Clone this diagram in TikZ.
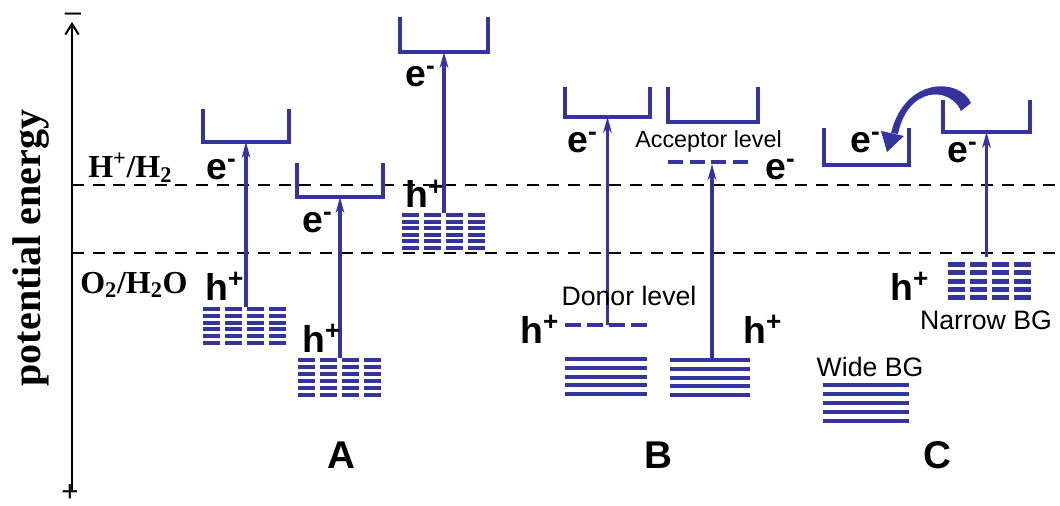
\documentclass[tikz,border=0pt]{standalone}
\usepackage{fontspec}
\setmainfont{Liberation Serif}
\setsansfont{Liberation Sans}
\usetikzlibrary{arrows.meta}
\definecolor{band}{RGB}{52,52,158}
\begin{document}
\begin{tikzpicture}[x=0.75pt,y=-0.75pt,
  cbowl/.style={draw=band, line width=3pt, line join=miter},
  excite/.style={draw=band, line width=2.7pt, -{Stealth[length=12pt,width=6.5pt]}},
  redox/.style={draw=black, line width=1.5pt, dash pattern=on 9pt off 6.5pt},
  carrier/.style={font=\sffamily\bfseries\fontsize{28}{28}\selectfont, inner sep=0pt, anchor=base west},
  couple/.style={font=\bfseries\fontsize{24}{24}\selectfont, inner sep=0pt, anchor=base west},
  levelname/.style={font=\sffamily\fontsize{20}{20}\selectfont, inner sep=0pt},
  panel/.style={font=\sffamily\bfseries\fontsize{29}{29}\selectfont, inner sep=0pt},
  sign/.style={font=\sffamily\fontsize{22}{22}\selectfont, inner sep=0pt}]
\useasboundingbox (0,0) rectangle (1060,506);

% energy axis
\coordinate (axbot) at (72,490);
\coordinate (axtop) at (72,22);
\draw[line width=1.5pt, -{Straight Barb[length=8pt,width=10pt]}] (axbot) -- (axtop);
\node[sign, anchor=base] (minus) at (73,22) {–};
\node[sign] (plus) at (70,493) {+};
\node[rotate=90, font=\bfseries\fontsize{30}{30}\selectfont, inner sep=0pt] (ylab) at (31,248) {potential energy};

% redox potentials
\coordinate (hl) at (72,185);  \coordinate (hr) at (1060,185);
\coordinate (ol) at (72,253);  \coordinate (or) at (1060,253);
\draw[redox] (hl) -- (hr);
\draw[redox] (ol) -- (or);
\node[couple] (hh) at (88,178) {H\textsuperscript{+}/H\textsubscript{2}};
\node[couple] (oo) at (80,293) {O\textsubscript{2}/H\textsubscript{2}O};

% conduction band bowls: name, left, right, top, bottom
\foreach \n/\xl/\xr/\yt/\yb in {cb1/203/289/109/142, cb2/297/383/163/197, cb3/400/488/17/52,
    cb4/565/650/87/117, cb5/668/758/87/122, cb6/824/909/128/165, cb7/943/1030/100/132}{
  \draw[cbowl] (\xl,\yt) |- (\xr,\yb) -- (\xr,\yt);
  \coordinate (\n) at ({(\xl+\xr)/2},\yb);
}

% valence bands drawn as dashed grids
\foreach \x/\y/\n/\h/\s in {203/307/5/4/6.8, 298/358/5/4/7, 402/213/5/4/6.6, 948/262/4/5/8.25}{
  \foreach \r in {0,...,\n}
    \foreach \c in {0,...,3}
      \fill[band] ({\x+\c*22},{\y+\r*\s}) rectangle ++(17,\h);
}
\coordinate (vb1) at (244,307);
\coordinate (vb2) at (339,358);
\coordinate (vb3) at (442,213);
\coordinate (vb7) at (987,257);

% valence bands drawn as solid stacks
\foreach \x/\y/\w/\s in {565/357/82/8.75, 670/358/80/8.75, 823/383/86/9}{
  \foreach \r in {0,...,4}
    \fill[band] (\x,{\y+\r*\s}) rectangle ++(\w,4);
}
\coordinate (vb5) at (712,358);

% donor and acceptor levels
\foreach \c in {0,...,3}{
  \fill[band] ({565+\c*22},323) rectangle ++(16,4);
  \fill[band] ({668+\c*21.5},160) rectangle ++(15,4);
}
\coordinate (donor) at (608,325);
\coordinate (acceptor) at (712,164);

% excitations
\draw[excite] (cb1 |- vb1) -- (cb1);
\draw[excite] (cb2 |- vb2) -- (cb2);
\draw[excite] (cb3 |- vb3) -- (cb3);
\draw[excite] (cb4 |- donor) -- (cb4);
\draw[excite] (vb5) -- (acceptor);
\draw[excite] (cb7 |- vb7) -- (cb7);

% electron transfer from the narrow-gap band to the wide-gap band
\fill[band] (971,103) .. controls (960,78) and (905,76) .. (891,133)
  -- (898,134) .. controls (908,86) and (950,86) .. (961,111) -- cycle;
\fill[band] (881,131) -- (887,152) -- (904,136) -- cycle;

% carriers
\node[carrier] (e1) at (206,180) {e\textsuperscript{-}};
\node[carrier] (e2) at (302,233) {e\textsuperscript{-}};
\node[carrier] (e3) at (405,87) {e\textsuperscript{-}};
\node[carrier] (e4) at (567,153) {e\textsuperscript{-}};
\node[carrier] (e5) at (765,180) {e\textsuperscript{-}};
\node[carrier] (e6) at (850,153) {e\textsuperscript{-}};
\node[carrier] (e7) at (947,163) {e\textsuperscript{-}};
\node[carrier] (h1) at (205,300) {h\textsuperscript{+}};
\node[carrier] (h2) at (302,352) {h\textsuperscript{+}};
\node[carrier] (h3) at (405,208) {h\textsuperscript{+}};
\node[carrier] (h4) at (520,343) {h\textsuperscript{+}};
\node[carrier] (h5) at (743,343) {h\textsuperscript{+}};
\node[carrier] (h7) at (890,300) {h\textsuperscript{+}};

% level names
\node[levelname] (dl) at (629,296) {Donor level};
\node[levelname, font=\sffamily\fontsize{17.5}{18}\selectfont, anchor=base west] (al) at (635,148) {Acceptor level};
\node[levelname] (nbg) at (986,320) {Narrow BG};
\node[levelname] (wbg) at (870,367) {Wide BG};

% panel letters
\node[panel] (pa) at (341,455) {A};
\node[panel] (pb) at (658,455) {B};
\node[panel] (pc) at (937,455) {C};
\end{tikzpicture}
\end{document}
